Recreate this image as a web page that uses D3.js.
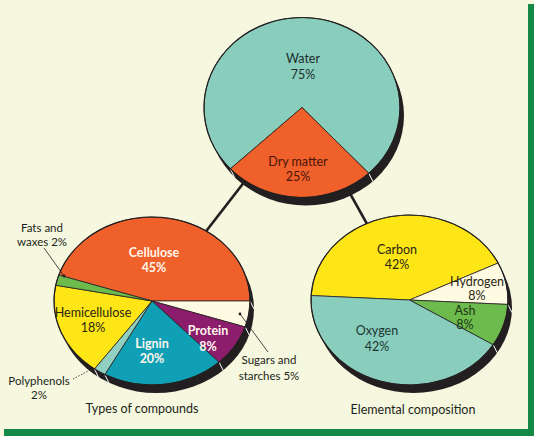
<!DOCTYPE html>
<html><head><meta charset="utf-8">
<script src="https://cdn.jsdelivr.net/npm/d3@7"></script>
<style>body{margin:0;background:#f5f7de;} svg{display:block}</style>
</head><body>
<svg id="c" width="534" height="436"></svg>
<script>
// ---- data ----
const topCategories = ["Water", "Dry matter"];
const topValues = [75, 25];
const compoundCategories = ["Cellulose", "Sugars and starches", "Protein", "Lignin", "Polyphenols", "Hemicellulose", "Fats and waxes"];
const compoundValues = [45, 5, 8, 20, 2, 18, 2];
const elementCategories = ["Carbon", "Hydrogen", "Ash", "Oxygen"];
const elementValues = [42, 8, 8, 42];
const pieTitles = ["Types of compounds", "Elemental composition"];

// ---- styles ----
const colors = {
  "Water": "#89cdbd", "Dry matter": "#f0602a",
  "Cellulose": "#f0602a", "Sugars and starches": "#fefbe2", "Protein": "#8c1d6c",
  "Lignin": "#0fa0b6", "Polyphenols": "#8fd0c0", "Hemicellulose": "#fde516", "Fats and waxes": "#6dbb4c",
  "Carbon": "#fde516", "Hydrogen": "#fefbe2", "Ash": "#6dbb4c", "Oxygen": "#89cdbd"
};
const labelColors = {
  "Water": "#1d2e2d", "Dry matter": "#4a160a", "Cellulose": "#fff6ec", "Protein": "#fff6ec",
  "Lignin": "#fff6ec", "Hemicellulose": "#2a2612", "Carbon": "#2a2614", "Hydrogen": "#2a2614",
  "Ash": "#1d3516", "Oxygen": "#1d3532"
};
const SHADOW = "#231f20";
const FONT = "Lato, 'Open Sans', sans-serif";

const svg = d3.select("#c");
svg.append("rect").attr("width", 534).attr("height", 436).attr("fill", "#f5f7de");

const pies = {
  top:   {cx: 302, cy: 107.5, rx: 98, ry: 90, start: -133},
  left:  {cx: 152, cy: 301, rx: 98, ry: 84, start: -72},
  right: {cx: 409.5, cy: 300, rx: 98.5, ry: 85, start: -87}
};
const OFF = [4, 8];

// connector lines (centre to centre, hidden under pies)
const conn = svg.append("g").attr("stroke", SHADOW).attr("stroke-width", 2.6);
[pies.left, pies.right].forEach(p => {
  conn.append("line").attr("x1", pies.top.cx).attr("y1", pies.top.cy)
    .attr("x2", p.cx).attr("y2", p.cy);
});

function drawPie(cfg, cats, vals) {
  const data = cats.map((c, i) => ({c, v: vals[i]}));
  const s = cfg.start * Math.PI / 180;
  const arcs = d3.pie().sort(null).value(d => d.v).startAngle(s).endAngle(s + 2 * Math.PI)(data);
  const arc = d3.arc().innerRadius(0).outerRadius(cfg.rx);
  const g = svg.append("g");
  g.append("ellipse").attr("cx", cfg.cx + OFF[0]).attr("cy", cfg.cy + OFF[1])
    .attr("rx", cfg.rx).attr("ry", cfg.ry).attr("fill", SHADOW);
  arcs.forEach(a => {
    const x = cfg.cx + cfg.rx * Math.sin(a.startAngle);
    const y = cfg.cy - cfg.ry * Math.cos(a.startAngle);
    g.append("line").attr("x1", x).attr("y1", y).attr("x2", x + OFF[0]).attr("y2", y + OFF[1])
      .attr("stroke", "#ffffff").attr("stroke-width", 1);
  });
  const pg = g.append("g").attr("transform", `translate(${cfg.cx},${cfg.cy}) scale(1,${cfg.ry / cfg.rx})`);
  pg.selectAll("path").data(arcs).join("path")
    .attr("d", arc).attr("fill", d => colors[d.data.c])
    .attr("stroke", "#2b2526").attr("stroke-width", 0.8)
    .attr("vector-effect", "non-scaling-stroke");
  pg.append("circle").attr("r", cfg.rx).attr("fill", "none")
    .attr("stroke", SHADOW).attr("stroke-width", 1.2).attr("vector-effect", "non-scaling-stroke");
}
drawPie(pies.top, topCategories, topValues);
drawPie(pies.left, compoundCategories, compoundValues);
drawPie(pies.right, elementCategories, elementValues);

// ---- labels inside slices ----
function valueOf(cat) {
  let i = topCategories.indexOf(cat); if (i >= 0) return topValues[i];
  i = compoundCategories.indexOf(cat); if (i >= 0) return compoundValues[i];
  i = elementCategories.indexOf(cat); return elementValues[i];
}
const inner = [
  ["Water", pies.top, 1, -49, 16, false],
  ["Dry matter", pies.top, -4, 54, 15, false],
  ["Cellulose", pies.left, 2, -49, 15, true],
  ["Hemicellulose", pies.left, -59, 11, 15, false],
  ["Lignin", pies.left, 0, 42, 15, true],
  ["Protein", pies.left, 56, 29, 16, true],
  ["Carbon", pies.right, -12.5, -51, 15, false],
  ["Hydrogen", pies.right, 67.5, -18.5, 14, false],
  ["Ash", pies.right, 55.5, 10, 14.5, false],
  ["Oxygen", pies.right, -32.5, 30, 16, false]
];
inner.forEach(([cat, p, dx, dy, lh, bold]) => {
  const t = svg.append("text").attr("font-family", FONT).attr("font-size", 12.5)
    .attr("font-weight", bold ? 700 : 400)
    .attr("fill", labelColors[cat]).attr("text-anchor", "middle");
  [cat, valueOf(cat) + "%"].forEach((line, k) => {
    t.append("tspan").attr("x", p.cx + dx).attr("y", p.cy + dy + k * lh)
      .attr("dominant-baseline", "central").text(line);
  });
});

// ---- outside labels with leaders ----
const outside = [
  {lines: ["Fats and", "waxes " + valueOf("Fats and waxes") + "%"], x: 42, y: 227, lh: 14,
   leader: [[44, 248], [64, 276]], dash: null},
  {lines: ["Polyphenols", valueOf("Polyphenols") + "%"], x: 39, y: 380, lh: 14,
   leader: [[73, 379], [92, 369]], dash: "1.5,1.5"},
  {lines: ["Sugars and", "starches " + valueOf("Sugars and starches") + "%"], x: 269, y: 359, lh: 16,
   leader: [[268, 352], [240, 314]], dash: null}
];
outside.forEach(o => {
  const t = svg.append("text").attr("font-family", FONT).attr("font-size", 11.5)
    .attr("fill", SHADOW).attr("text-anchor", "middle");
  o.lines.forEach((line, k) => {
    t.append("tspan").attr("x", o.x).attr("y", o.y + k * o.lh)
      .attr("dominant-baseline", "central").text(line);
  });
  svg.append("line").attr("x1", o.leader[0][0]).attr("y1", o.leader[0][1])
    .attr("x2", o.leader[1][0]).attr("y2", o.leader[1][1])
    .attr("stroke", SHADOW).attr("stroke-width", 0.8)
    .attr("stroke-dasharray", o.dash);
  svg.append("circle").attr("cx", o.leader[1][0]).attr("cy", o.leader[1][1]).attr("r", 1.4).attr("fill", SHADOW);
});

// ---- titles ----
[[pieTitles[0], 142, 408], [pieTitles[1], 413, 409]].forEach(([txt, x, y]) => {
  svg.append("text").attr("x", x).attr("y", y).attr("dominant-baseline", "central")
    .attr("text-anchor", "middle").attr("font-family", FONT).attr("font-size", 12.5)
    .attr("fill", SHADOW).text(txt);
});

// ---- green frame (right and bottom) ----
svg.append("rect").attr("x", 528).attr("y", 4).attr("width", 6).attr("height", 432).attr("fill", "#148a46");
svg.append("rect").attr("x", 4).attr("y", 429).attr("width", 530).attr("height", 7).attr("fill", "#148a46");
</script>
</body></html>
